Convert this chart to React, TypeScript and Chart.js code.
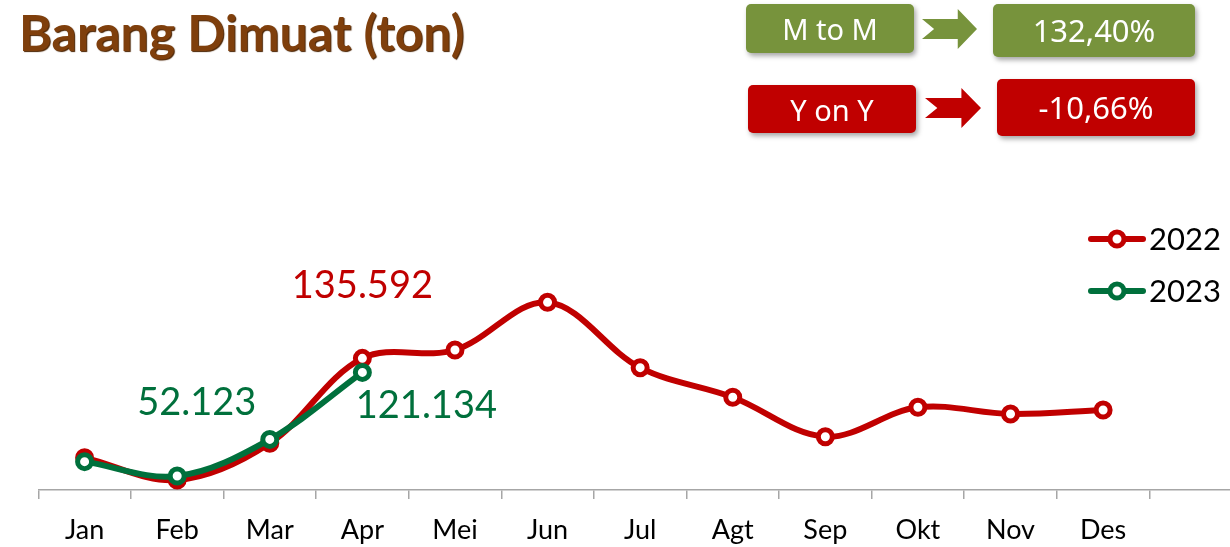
import React, { useEffect, useRef } from "react";
import { Chart, registerables } from "chart.js";

Chart.register(...registerables);

const months = ["Jan", "Feb", "Mar", "Apr", "Mei", "Jun", "Jul", "Agt", "Sep", "Okt", "Nov", "Des", ""];
const series2022 = [33300, 10300, 48100, 135592, 144200, 193300, 126000, 95500, 54900, 85200, 78300, 82400, null];
const series2023 = [29200, 14400, 52123, 121134, null, null, null, null, null, null, null, null, null];
const seriesNames = ["2022", "2023"];
const RED = "#c00000";
const GREEN = "#00703c";

// value labels: [datasetIndex, pointIndex, text]
const valueLabels: [number, number, string][] = [
  [0, 3, "135.592"],
  [1, 2, "52.123"],
  [1, 3, "121.134"],
];
const labelOffsets = [
  [0, -73],
  [-73, -37],
  [64, 33],
];

const FONT = "Lato, 'Open Sans', sans-serif";

const overlayPlugin = {
  id: "overlay",
  afterDatasetsDraw(chart: any) {
    const ctx = chart.ctx;
    ctx.save();
    valueLabels.forEach(([ds, idx, text], i) => {
      const el = chart.getDatasetMeta(ds).data[idx];
      ctx.font = `38px ${FONT}`;
      ctx.fillStyle = ds === 0 ? RED : GREEN;
      ctx.textAlign = "center";
      ctx.textBaseline = "middle";
      ctx.fillText(text, el.x + labelOffsets[i][0], el.y + labelOffsets[i][1]);
    });
    // legend
    const colors = [RED, GREEN];
    seriesNames.forEach((name, i) => {
      const y = 239 + i * 52;
      ctx.strokeStyle = colors[i];
      ctx.lineWidth = 6;
      ctx.lineCap = "round";
      ctx.beginPath();
      ctx.moveTo(1091, y);
      ctx.lineTo(1143, y);
      ctx.stroke();
      ctx.beginPath();
      ctx.arc(1117, y, 7, 0, Math.PI * 2);
      ctx.fillStyle = "#fff";
      ctx.fill();
      ctx.lineWidth = 5;
      ctx.stroke();
      ctx.fillStyle = "#000";
      ctx.font = `31px ${FONT}`;
      ctx.textAlign = "left";
      ctx.textBaseline = "middle";
      ctx.fillText(name, 1149, y + 1);
    });
    ctx.restore();
  },
};

function ChartBox() {
  const ref = useRef<HTMLCanvasElement>(null);
  useEffect(() => {
    if (!ref.current) return;
    const chart = new Chart(ref.current, {
      type: "line",
      data: {
        labels: months,
        datasets: [
          {
            label: seriesNames[0],
            data: series2022,
            borderColor: RED,
            backgroundColor: "#fff",
            borderWidth: 6,
            pointRadius: 7,
            pointBorderWidth: 5,
            pointBackgroundColor: "#fff",
            pointBorderColor: RED,
            tension: 0.35,
            order: 2,
          },
          {
            label: seriesNames[1],
            data: series2023,
            borderColor: GREEN,
            backgroundColor: "#fff",
            borderWidth: 6,
            pointRadius: 7,
            pointBorderWidth: 5,
            pointBackgroundColor: "#fff",
            pointBorderColor: GREEN,
            tension: 0.35,
            order: 1,
          },
        ],
      },
      options: {
        responsive: false,
        animation: false,
        layout: { padding: { top: 190, left: 38.3, right: 1.6, bottom: 0 } },
        plugins: { legend: { display: false }, tooltip: { enabled: false } },
        scales: {
          x: {
            offset: true,
            grid: {
              offset: true,
              drawOnChartArea: false,
              drawTicks: true,
              tickLength: 9,
              color: "#a6a6a6",
              lineWidth: 1.5,
            },
            border: { display: true, color: "#a6a6a6", width: 1.5 },
            ticks: {
              color: "#000",
              font: { family: FONT, size: 27 },
              padding: 15,
              autoSkip: false,
              maxRotation: 0,
            },
            afterFit(scale: any) {
              scale.height = 57;
            },
          },
          y: {
            display: false,
            min: 0,
            max: 309000,
          },
        },
      },
      plugins: [overlayPlugin],
    });
    return () => chart.destroy();
  }, []);
  return (
    <canvas
      ref={ref}
      width={1254}
      height={547}
      style={{ position: "absolute", left: 0, top: 0, width: 1254, height: 547 }}
    />
  );
}

const boxFont = "'Comic Sans MS', 'Noto Sans', 'DejaVu Sans', sans-serif";

function Box(props: { x: number; y: number; w: number; h: number; bg: string; text: string; size: number }) {
  return (
    <div
      style={{
        position: "absolute",
        left: props.x,
        top: props.y,
        width: props.w,
        height: props.h,
        background: props.bg,
        borderRadius: 5,
        boxShadow: "2px 3px 5px rgba(0,0,0,0.35)",
        color: "#fff",
        fontFamily: boxFont,
        fontSize: props.size,
        display: "flex",
        alignItems: "center",
        justifyContent: "center",
        lineHeight: 1,
      }}
    >
      {props.text}
    </div>
  );
}

function Arrow(props: { x: number; y: number; w: number; h: number; color: string }) {
  const { w, h } = props;
  const shaftTop = h * 0.25;
  const shaftBot = h * 0.75;
  const headX = w * 0.65;
  const notch = w * 0.22;
  const pts = `0,${shaftTop} ${headX},${shaftTop} ${headX},0 ${w},${h / 2} ${headX},${h} ${headX},${shaftBot} 0,${shaftBot} ${notch},${h / 2}`;
  return (
    <svg style={{ position: "absolute", left: props.x, top: props.y }} width={w} height={h}>
      <polygon points={pts} fill={props.color} />
    </svg>
  );
}

export default function App() {
  return (
    <div
      style={{
        position: "fixed",
        left: 0,
        top: 0,
        width: 1230,
        height: 547,
        overflow: "hidden",
        background: "#fff",
      }}
    >
      <ChartBox />
      <div
        style={{
          position: "absolute",
          left: 19,
          top: 2,
          fontFamily: FONT,
          fontWeight: 700,
          fontSize: 50,
          color: "#7f3f0c",
          textShadow: "1px 1px 1px #4a2200",
          whiteSpace: "nowrap",
          lineHeight: 1.2,
        }}
      >
        Barang Dimuat (ton)
      </div>
      <Box x={746} y={4} w={168} h={49} bg="#77933c" text="M to M" size={29} />
      <Arrow x={922} y={9} w={55} h={40} color="#77933c" />
      <Box x={993} y={4} w={202} h={53} bg="#77933c" text="132,40%" size={31} />
      <Box x={748} y={85} w={168} h={48} bg="#c00000" text="Y on Y" size={29} />
      <Arrow x={925} y={88} w={56} h={40} color="#c00000" />
      <Box x={997} y={79} w={198} h={57} bg="#c00000" text="-10,66%" size={31} />
    </div>
  );
}
